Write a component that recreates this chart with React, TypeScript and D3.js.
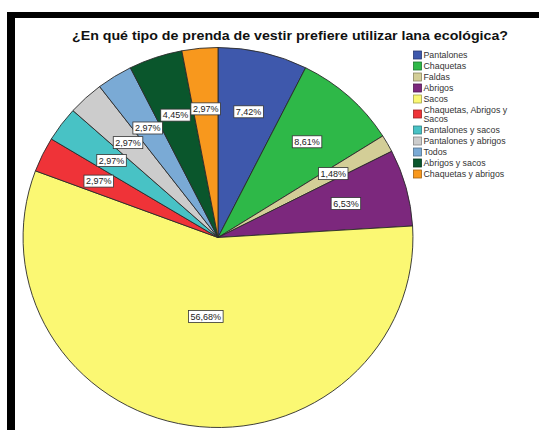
import { useEffect, useRef } from "react";
import * as d3 from "d3";

const title = "¿En qué tipo de prenda de vestir prefiere utilizar lana ecológica?";

const categories = [
  "Pantalones",
  "Chaquetas",
  "Faldas",
  "Abrigos",
  "Sacos",
  "Chaquetas, Abrigos y Sacos",
  "Pantalones y sacos",
  "Pantalones y abrigos",
  "Todos",
  "Abrigos y sacos",
  "Chaquetas y abrigos",
];

const percents = [7.42, 8.61, 1.48, 6.53, 56.68, 2.97, 2.97, 2.97, 2.97, 4.45, 2.97];

const colors = [
  "#3e58ac",
  "#2eb848",
  "#d3ce97",
  "#7c287d",
  "#fbf873",
  "#ef3338",
  "#48c2c5",
  "#cccccc",
  "#7aaad5",
  "#0a562c",
  "#f8981d",
];

// legend lines (one item wraps like the original)
const legendLines = [
  ["Pantalones"],
  ["Chaquetas"],
  ["Faldas"],
  ["Abrigos"],
  ["Sacos"],
  ["Chaquetas, Abrigos y", "Sacos"],
  ["Pantalones y sacos"],
  ["Pantalones y abrigos"],
  ["Todos"],
  ["Abrigos y sacos"],
  ["Chaquetas y abrigos"],
];

const W = 539;
const H = 430;
const FONT = "Arial, 'Liberation Sans', sans-serif";

export default function App() {
  const svgRef = useRef<SVGSVGElement>(null);

  useEffect(() => {
    const svg = d3.select(svgRef.current);
    svg.selectAll("*").remove();

    svg.append("rect").attr("width", W).attr("height", H).attr("fill", "#fff");

    // ---------- FRAME ----------
    svg.append("rect").attr("x", 7).attr("y", 12).attr("width", W - 7).attr("height", 6).attr("fill", "#000");
    svg.append("rect").attr("x", 7).attr("y", 12).attr("width", 8).attr("height", H - 12).attr("fill", "#000");

    // ---------- TITLE ----------
    svg.append("text")
      .attr("x", 290)
      .attr("y", 40)
      .attr("text-anchor", "middle")
      .attr("font-family", FONT)
      .attr("font-weight", "bold")
      .attr("font-size", 12)
      .attr("textLength", 436)
      .attr("lengthAdjust", "spacingAndGlyphs")
      .attr("fill", "#111")
      .text(title);

    // ---------- PIE ----------
    const cx = 218, cy = 237.5, r = 190, sx = 1.026;
    const data = categories.map((c, i) => ({ name: c, value: percents[i], color: colors[i] }));

    const pie = d3.pie<any>().value(d => d.value).sort(null);
    const arcs = pie(data);
    const arc = d3.arc<any>().innerRadius(0).outerRadius(r);

    const g = svg.append("g").attr("transform", `translate(${cx},${cy}) scale(${sx},1)`);
    g.selectAll("path")
      .data(arcs)
      .join("path")
      .attr("d", arc)
      .attr("fill", d => d.data.color)
      .attr("stroke", "#2a2a2a")
      .attr("stroke-width", 0.9)
      .attr("vector-effect", "non-scaling-stroke");

    // ---------- LABELS ----------
    const labels = svg.append("g");
    arcs.forEach(a => {
      const k = a.data.value > 50 ? 0.42 : 0.68;
      const la = d3.arc<any>().innerRadius(r * k).outerRadius(r * k);
      const [px, py] = la.centroid(a);
      const x = cx + px * sx;
      const y = cy + py;
      const lg = labels.append("g");
      const t = lg.append("text")
        .attr("x", x)
        .attr("y", y + 3.2)
        .attr("text-anchor", "middle")
        .attr("font-family", FONT)
        .attr("font-size", 9)
        .attr("fill", "#222")
        .text(a.data.value.toFixed(2).replace(".", ",") + "%");
      const bb = (t.node() as SVGTextElement).getBBox();
      lg.insert("rect", "text")
        .attr("x", bb.x - 2)
        .attr("y", y - 6)
        .attr("width", bb.width + 4)
        .attr("height", 12)
        .attr("fill", "#fff")
        .attr("stroke", "#333")
        .attr("stroke-width", 0.8);
    });

    // ---------- LEGEND ----------
    const leg = svg.append("g");
    let ly = 55;
    legendLines.forEach((lines, i) => {
      const top = ly;
      const sy = lines.length > 1 ? top + 4 : top;
      leg.append("rect")
        .attr("x", 413.5)
        .attr("y", sy - 4)
        .attr("width", 8)
        .attr("height", 8)
        .attr("fill", colors[i])
        .attr("stroke", d3.color(colors[i])!.darker(1.2).toString())
        .attr("stroke-width", 0.8);
      lines.forEach((ln, j) => {
        leg.append("text")
          .attr("x", 423.5)
          .attr("y", top + 3.3 + j * 8.5)
          .attr("font-family", FONT)
          .attr("font-size", 8.8)
          .attr("fill", "#333")
          .text(ln);
      });
      ly += 11 + (lines.length - 1) * 9;
    });
  }, []);

  return (
    <div style={{ position: "fixed", left: 0, top: 0, width: W, height: H, background: "#fff" }}>
      <svg ref={svgRef} width={W} height={H} style={{ display: "block" }} />
    </div>
  );
}
